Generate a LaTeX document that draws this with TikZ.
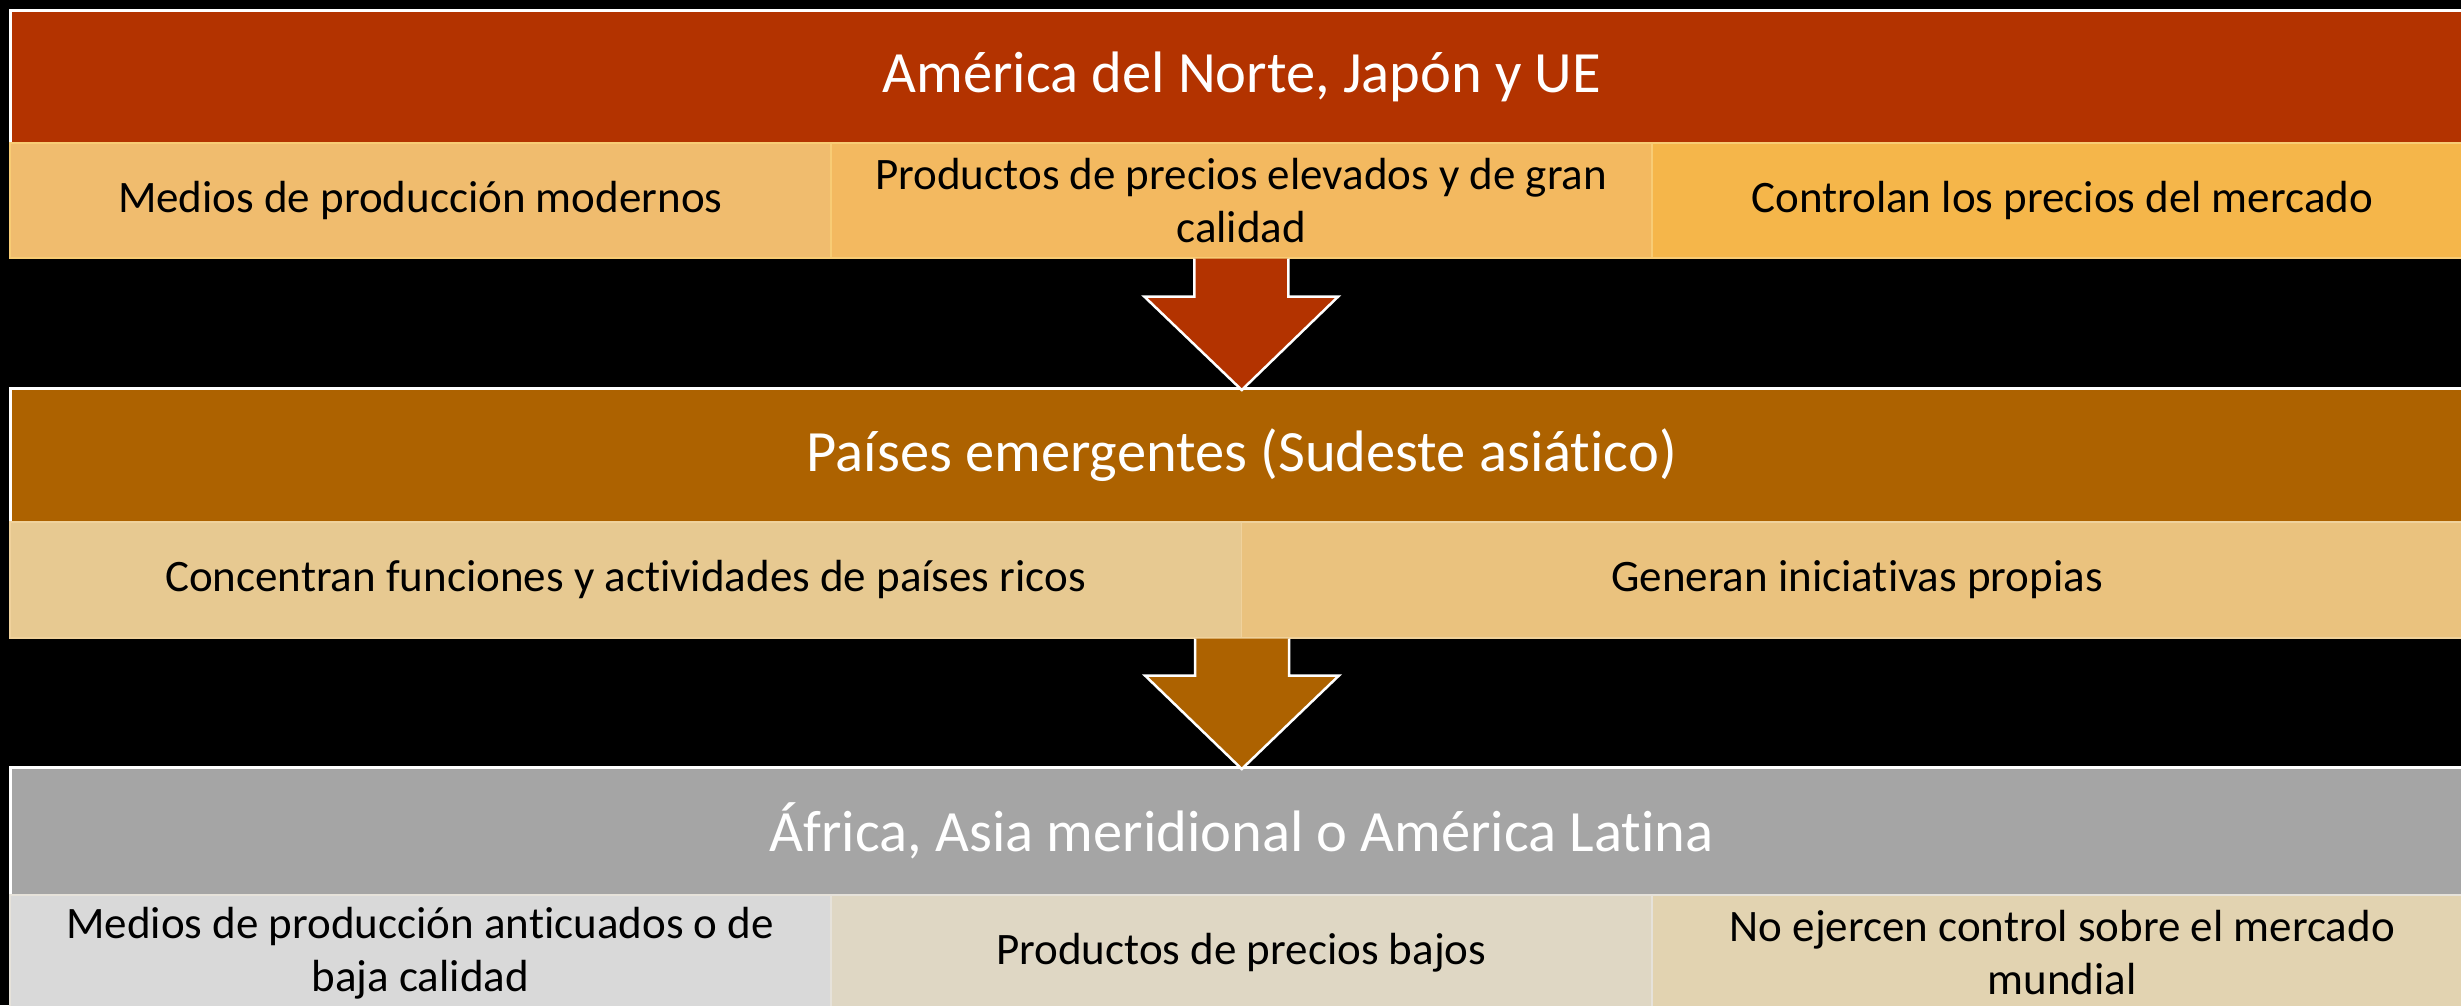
\documentclass[tikz,border=0pt]{standalone}
\usepackage{fontspec}
\setmainfont{Carlito}[Ligatures={NoCommon}]
\usetikzlibrary{calc}
\definecolor{hA}{HTML}{B33300}
\definecolor{cAa}{HTML}{F0BC6E}
\definecolor{cAb}{HTML}{F3B960}
\definecolor{cAc}{HTML}{F5B64A}
\definecolor{bA}{HTML}{F8CC75}
\definecolor{hB}{HTML}{AD6200}
\definecolor{cBa}{HTML}{E7C991}
\definecolor{cBb}{HTML}{EAC27E}
\definecolor{bB}{HTML}{F0D29C}
\definecolor{hC}{HTML}{A5A5A5}
\definecolor{cCa}{HTML}{D9D9D9}
\definecolor{cCb}{HTML}{DFD7C4}
\definecolor{cCc}{HTML}{E2D3B1}
\definecolor{bC}{HTML}{E6E2DA}
\tikzset{
  header/.style={draw=white, line width=2.5pt, anchor=north west, inner sep=0pt,
    minimum width=2463pt, text=white, align=center,
    font=\fontsize{58.5}{70}\selectfont},
  cell/.style={line width=1.5pt, anchor=north west, inner sep=0pt,
    text=black, align=center, font=\fontsize{45}{53}\selectfont},
  blockarrow/.style={draw=white, line width=2.5pt, line join=miter},
}
\begin{document}
\begin{tikzpicture}[x=1pt,y=-1pt]
\path[use as bounding box] (0,0) rectangle (2461,1005);
\clip (0,0) rectangle (2461,1005);
\fill[black] (0,0) rectangle (2461,1005);

% Row 1
\node[header, fill=hA, minimum height=133pt] (h1) at (9,9) {América del Norte, Japón y UE};
\node[cell, fill=cAa, draw=bA, minimum width=821pt, minimum height=115pt] (s11) at (9,142) {Medios de producción modernos};
\node[cell, fill=cAb, draw=bA, minimum width=821pt, minimum height=115pt] (s12) at (830,142) {Productos de precios elevados y de gran\\calidad};
\node[cell, fill=cAc, draw=bA, minimum width=821pt, minimum height=115pt] (s13) at (1651,142) {Controlan los precios del mercado};

% Row 2
\node[header, fill=hB, minimum height=134pt] (h2) at (9,387) {Países emergentes (Sudeste asiático)};
\node[cell, fill=cBa, draw=bB, minimum width=1231.5pt, minimum height=116pt] (s21) at (9,521) {Concentran funciones y actividades de países ricos};
\node[cell, fill=cBb, draw=bB, minimum width=1231.5pt, minimum height=116pt] (s22) at (1240.5,521) {Generan iniciativas propias};

% Row 3
\node[header, fill=hC, minimum height=128pt] (h3) at (9,766) {África, Asia meridional o América Latina};
\node[cell, fill=cCa, draw=bC, minimum width=821pt, minimum height=116pt] (s31) at (9,894) {Medios de producción anticuados o de\\baja calidad};
\node[cell, fill=cCb, draw=bC, minimum width=821pt, minimum height=116pt] (s32) at (830,894) {Productos de precios bajos};
\node[cell, fill=cCc, draw=bC, minimum width=821pt, minimum height=116pt] (s33) at (1651,894) {No ejercen control sobre el mercado\\mundial};

% Arrows
\coordinate (a1top) at (s12.south);
\coordinate (a1tip) at ($(h2.north)+(0,3)$);
\draw[blockarrow, fill=hA] ($(a1top)+(-47,0)$) -- ($(a1top)+(-47,38)$) -- ($(a1top)+(-97,38)$)
  -- (a1tip) -- ($(a1top)+(97,38)$) -- ($(a1top)+(47,38)$) -- ($(a1top)+(47,0)$);

\coordinate (a2top) at (s21.south east);
\coordinate (a2tip) at ($(h3.north)+(0,3)$);
\draw[blockarrow, fill=hB] ($(a2top)+(-47,0)$) -- ($(a2top)+(-47,37)$) -- ($(a2top)+(-97,37)$)
  -- (a2tip) -- ($(a2top)+(97,37)$) -- ($(a2top)+(47,37)$) -- ($(a2top)+(47,0)$);
\end{tikzpicture}
\end{document}
